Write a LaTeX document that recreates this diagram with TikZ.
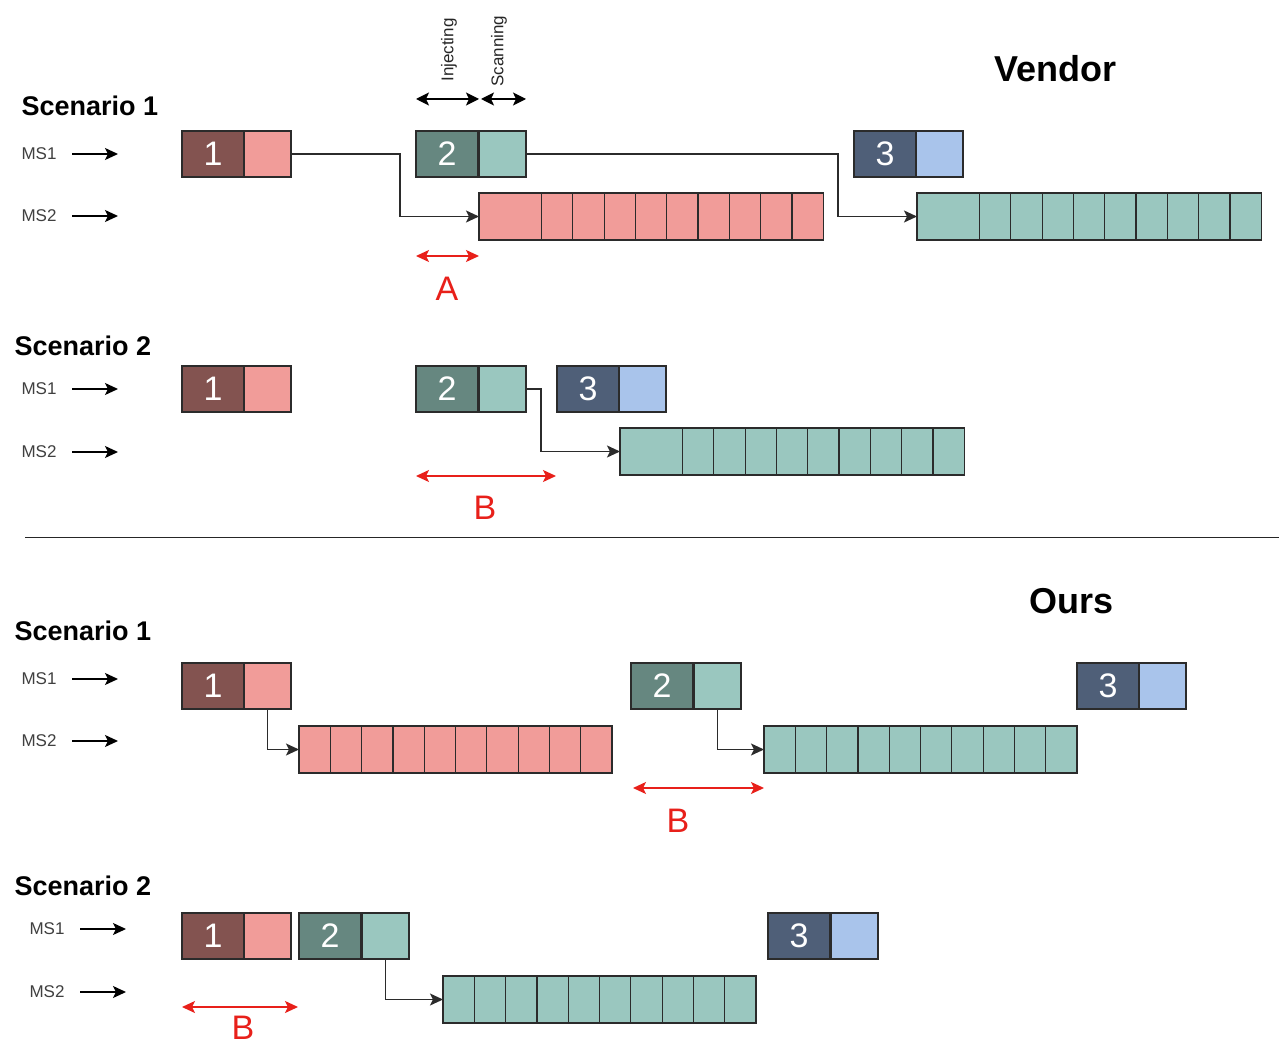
\documentclass[tikz,border=0pt]{standalone}
\usepackage{fontspec}
\setmainfont{Liberation Sans}
\usetikzlibrary{arrows.meta}
\definecolor{dkred}{HTML}{835350}
\definecolor{ltred}{HTML}{F19C99}
\definecolor{dkteal}{HTML}{668780}
\definecolor{ltteal}{HTML}{9AC7BF}
\definecolor{dkblue}{HTML}{4F5F78}
\definecolor{ltblue}{HTML}{A9C4EB}
\definecolor{myred}{HTML}{E8201A}
\definecolor{edge}{HTML}{2B2B2B}
\tikzset{
  cell/.style={draw=edge, line width=1.2pt, inner sep=0pt, outer sep=0pt, minimum height=46pt, anchor=north west},
  numbox/.style={cell, minimum width=62pt, text=white, font=\fontsize{34}{36}\selectfont},
  tailbox/.style={cell, minimum width=47pt},
  barcell/.style={cell, minimum width=31.3pt, minimum height=47pt},
  conn/.style={draw=edge, line width=1.3pt, -{Stealth[length=13pt,width=12pt,inset=3pt]}},
  msarrow/.style={draw=black, line width=1.5pt, -{Stealth[length=13pt,width=12pt,inset=3pt]}},
  gap/.style={draw=myred, line width=1.6pt, {Stealth[length=13pt,width=12pt,inset=3pt]}-{Stealth[length=13pt,width=12pt,inset=3pt]}},
  phase/.style={draw=black, line width=1.6pt, {Stealth[length=13pt,width=13pt,inset=3pt]}-{Stealth[length=13pt,width=13pt,inset=3pt]}},
  gaplabel/.style={text=myred, inner sep=0pt, font=\fontsize{34}{36}\selectfont},
  scen/.style={font=\bfseries\fontsize{27}{30}\selectfont, anchor=west},
  title/.style={font=\bfseries\fontsize{36}{40}\selectfont},
  ms/.style={font=\fontsize{17}{19}\selectfont, text=black!75, anchor=west},
  vlabel/.style={rotate=90, font=\fontsize{17}{19}\selectfont, text=black!85},
}
\begin{document}
\begin{tikzpicture}[x=1pt,y=-1pt]
\useasboundingbox[fill=white] (0,0) rectangle (1279,1048);

% ================= VENDOR =================
\node[title] (vendor) at (1055,69) {Vendor};

% ---- Scenario 1
\node[scen] (vs1) at (18,106) {Scenario 1};
\node[ms] (vs1m1) at (18,154) {MS1};
\node[ms] (vs1m2) at (18,216) {MS2};
\coordinate (vs1a1s) at (72,154); \coordinate (vs1a1e) at (118,154);
\coordinate (vs1a2s) at (72,216); \coordinate (vs1a2e) at (118,216);
\draw[msarrow] (vs1a1s) -- (vs1a1e);
\draw[msarrow] (vs1a2s) -- (vs1a2e);

\node[numbox, fill=dkred] (v1j1a) at (182,131) {1};
\node[tailbox, fill=ltred] (v1j1b) at (244,131) {};
\node[numbox, fill=dkteal] (v1j2a) at (416,131) {2};
\node[tailbox, fill=ltteal] (v1j2b) at (479,131) {};
\node[numbox, fill=dkblue] (v1j3a) at (854,131) {3};
\node[tailbox, fill=ltblue] (v1j3b) at (916,131) {};

% pink bar
\node[barcell, fill=ltred, minimum width=62.5pt] (v1p0) at (479,193) {};
\foreach \i in {1,...,9} {\node[barcell, fill=ltred] (v1p\i) at (541.5+31.3*\i-31.3,193) {};}
% teal bar
\node[barcell, fill=ltteal, minimum width=62.5pt] (v1t0) at (917,193) {};
\foreach \i in {1,...,9} {\node[barcell, fill=ltteal] (v1t\i) at (979.5+31.3*\i-31.3,193) {};}

\draw[conn] (v1j1b.east) -- (400,154) |- (v1p0.west);
\draw[conn] (v1j2b.east) -- (838,154) |- (v1t0.west);

% phase arrows
\coordinate (injL) at (416,99); \coordinate (injR) at (479,99);
\coordinate (scaL) at (481,99); \coordinate (scaR) at (526,99);
\draw[phase] (injL) -- (injR);
\draw[phase] (scaL) -- (scaR);
\node[vlabel] (inj) at (449,50) {Injecting};
\node[vlabel] (sca) at (499,51) {Scanning};

% gap A
\coordinate (aL) at (416,256); \coordinate (aR) at (479,256);
\draw[gap] (aL) -- (aR);
\node[gaplabel] (alab) at (447,289) {A};

% ---- Scenario 2
\node[scen] (vs2) at (11,346) {Scenario 2};
\node[ms] (vs2m1) at (18,389) {MS1};
\node[ms] (vs2m2) at (18,452) {MS2};
\coordinate (vs2a1s) at (72,389); \coordinate (vs2a1e) at (118,389);
\coordinate (vs2a2s) at (72,452); \coordinate (vs2a2e) at (118,452);
\draw[msarrow] (vs2a1s) -- (vs2a1e);
\draw[msarrow] (vs2a2s) -- (vs2a2e);

\node[numbox, fill=dkred] (v2j1a) at (182,366) {1};
\node[tailbox, fill=ltred] (v2j1b) at (244,366) {};
\node[numbox, fill=dkteal] (v2j2a) at (416,366) {2};
\node[tailbox, fill=ltteal] (v2j2b) at (479,366) {};
\node[numbox, fill=dkblue] (v2j3a) at (557,366) {3};
\node[tailbox, fill=ltblue] (v2j3b) at (619,366) {};

\node[barcell, fill=ltteal, minimum width=62.5pt] (v2t0) at (620,428) {};
\foreach \i in {1,...,9} {\node[barcell, fill=ltteal] (v2t\i) at (682.5+31.3*\i-31.3,428) {};}

\draw[conn] (v2j2b.east) -- (541,389) |- (v2t0.west);

\coordinate (bL) at (416,476); \coordinate (bR) at (556,476);
\draw[gap] (bL) -- (bR);
\node[gaplabel] (blab) at (485,508) {B};

% divider
\coordinate (divL) at (25,537); \coordinate (divR) at (1279,537);
\draw[line width=1pt, black!85] (divL) -- (divR);

% ================= OURS =================
\node[title] (ours) at (1071,601) {Ours};

% ---- Scenario 1
\node[scen] (os1) at (11,631) {Scenario 1};
\node[ms] (os1m1) at (18,679) {MS1};
\node[ms] (os1m2) at (18,741) {MS2};
\coordinate (os1a1s) at (72,679); \coordinate (os1a1e) at (118,679);
\coordinate (os1a2s) at (72,741); \coordinate (os1a2e) at (118,741);
\draw[msarrow] (os1a1s) -- (os1a1e);
\draw[msarrow] (os1a2s) -- (os1a2e);

\node[numbox, fill=dkred] (o1j1a) at (182,663) {1};
\node[tailbox, fill=ltred] (o1j1b) at (244,663) {};
\node[numbox, fill=dkteal] (o1j2a) at (631,663) {2};
\node[tailbox, fill=ltteal] (o1j2b) at (694,663) {};
\node[numbox, fill=dkblue] (o1j3a) at (1077,663) {3};
\node[tailbox, fill=ltblue] (o1j3b) at (1139,663) {};

\foreach \i in {0,...,9} {\node[barcell, fill=ltred] (o1p\i) at (299+31.3*\i,726) {};}
\foreach \i in {0,...,9} {\node[barcell, fill=ltteal] (o1t\i) at (764+31.3*\i,726) {};}

\draw[conn] (o1j1b.south) |- (o1p0.west);
\draw[conn] (o1j2b.south) |- (o1t0.west);

\coordinate (cL) at (633,788); \coordinate (cR) at (764,788);
\draw[gap] (cL) -- (cR);
\node[gaplabel] (clab) at (678,821) {B};

% ---- Scenario 2
\node[scen] (os2) at (11,886) {Scenario 2};
\node[ms] (os2m1) at (26,929) {MS1};
\node[ms] (os2m2) at (26,992) {MS2};
\coordinate (os2a1s) at (80,929); \coordinate (os2a1e) at (126,929);
\coordinate (os2a2s) at (80,992); \coordinate (os2a2e) at (126,992);
\draw[msarrow] (os2a1s) -- (os2a1e);
\draw[msarrow] (os2a2s) -- (os2a2e);

\node[numbox, fill=dkred] (o2j1a) at (182,913) {1};
\node[tailbox, fill=ltred] (o2j1b) at (244,913) {};
\node[numbox, fill=dkteal] (o2j2a) at (299,913) {2};
\node[tailbox, fill=ltteal] (o2j2b) at (362,913) {};
\node[numbox, fill=dkblue] (o2j3a) at (768,913) {3};
\node[tailbox, fill=ltblue] (o2j3b) at (831,913) {};

\foreach \i in {0,...,9} {\node[barcell, fill=ltteal] (o2t\i) at (443+31.3*\i,976) {};}

\draw[conn] (o2j2b.south) |- (o2t0.west);

\coordinate (dL) at (182,1007); \coordinate (dR) at (298,1007);
\draw[gap] (dL) -- (dR);
\node[gaplabel] (dlab) at (243,1028) {B};

\end{tikzpicture}
\end{document}
